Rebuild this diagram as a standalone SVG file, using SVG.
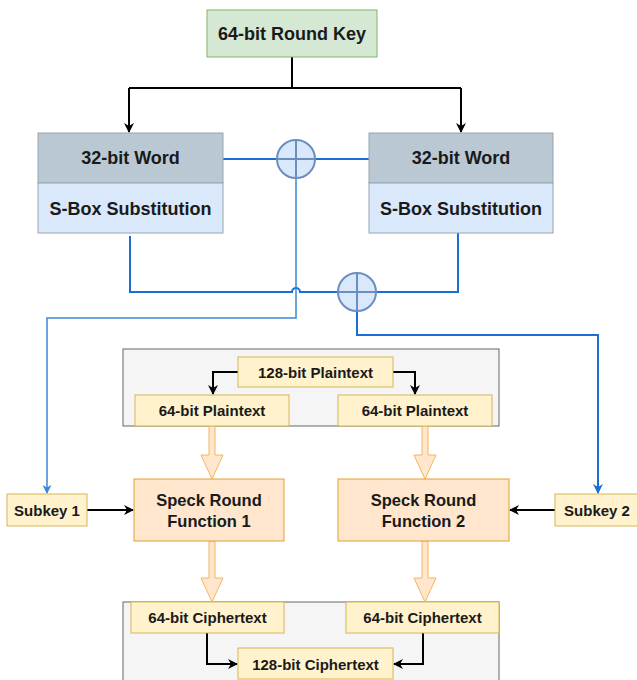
<svg xmlns="http://www.w3.org/2000/svg" width="637" height="680" viewBox="0 0 637 680">
  <defs>
    <marker id="arrBlack" viewBox="0 0 10 10" refX="9" refY="5" markerWidth="10" markerHeight="10" orient="auto" markerUnits="userSpaceOnUse">
      <path d="M0,0 L10,5 L0,10 L3,5 Z" fill="#000"/>
    </marker>
    <marker id="arrBlue" viewBox="0 0 10 10" refX="9" refY="5" markerWidth="10" markerHeight="10" orient="auto" markerUnits="userSpaceOnUse">
      <path d="M0,0 L10,5 L0,10 L3,5 Z" fill="#1a6fd6"/>
    </marker>
    <marker id="arrBlueThin" viewBox="0 0 10 10" refX="9" refY="5" markerWidth="9" markerHeight="9" orient="auto" markerUnits="userSpaceOnUse">
      <path d="M0,0 L10,5 L0,10 L3,5 Z" fill="#3a86d8"/>
    </marker>
  </defs>
  <style>
    text { font-family: "Liberation Sans", Arial, sans-serif; font-weight: bold; fill: #1a1a1a; text-anchor: middle; dominant-baseline: central; }
    .key { fill: #d5e8d4; stroke: #82b366; stroke-width: 1; }
    .word { fill: #bac8d3; stroke: #9aa4ad; stroke-width: 1; }
    .sbox { fill: #dae8fc; stroke: #9aa4ad; stroke-width: 1; }
    .yellow { fill: #fff2cc; stroke: #d6b656; stroke-width: 1; }
    .speck { fill: #ffe6cc; stroke: #e0a030; stroke-width: 1; }
    .group { fill: #f5f5f5; stroke: #666; stroke-width: 1; }
    .xor { fill: #dae8fc; stroke: #6c8ebf; stroke-width: 2; }
    .blk { fill: none; stroke: #000; stroke-width: 2; }
    .blue { fill: none; stroke: #1a6fd6; stroke-width: 2; }
    .bluethin { fill: none; stroke: #3a86d8; stroke-width: 1.5; }
    .fat { fill: #ffe6cc; stroke: #f0b860; stroke-width: 1; }
    .tl { font-size: 18px; }
    .tm { font-size: 16.5px; }
    .ts { font-size: 15px; }
  </style>

  <!-- container panels -->
  <rect class="group" x="123" y="349" width="376" height="77"/>
  <rect class="group" x="123" y="602" width="376" height="82"/>

  <!-- connectors -->
  <g id="connectors">
    <!-- round key split -->
    <path class="blk" d="M292,57 V88"/>
    <path class="blk" d="M129,88 H461"/>
    <path class="blk" d="M129,88 V132" marker-end="url(#arrBlack)"/>
    <path class="blk" d="M461,88 V132" marker-end="url(#arrBlack)"/>
    <!-- words into first XOR -->
    <path class="blue" d="M223,159 H277"/>
    <path class="blue" d="M315,159 H369"/>
    <!-- S-box outputs into second XOR, with a hop over the vertical -->
    <path class="blue" d="M130,236 V292 H292 A4,4 0 0 1 300,292 H338"/>
    <path class="blue" d="M376,292 H458 V233"/>
    <!-- first XOR to subkey 1 -->
    <path class="bluethin" d="M296,178 V318 H47 V493" marker-end="url(#arrBlueThin)"/>
    <!-- second XOR to subkey 2 -->
    <path class="blue" d="M357,311 V335 H598 V493" marker-end="url(#arrBlue)"/>
    <!-- plaintext split -->
    <path class="blk" d="M238,372 H213 V394" marker-end="url(#arrBlack)"/>
    <path class="blk" d="M393,372 H415 V394" marker-end="url(#arrBlack)"/>
    <!-- subkeys into round functions -->
    <path class="blk" d="M87,510 H133" marker-end="url(#arrBlack)"/>
    <path class="blk" d="M555,510 H510" marker-end="url(#arrBlack)"/>
    <!-- ciphertext join -->
    <path class="blk" d="M207,633 V664 H237" marker-end="url(#arrBlack)"/>
    <path class="blk" d="M423,633 V664 H394" marker-end="url(#arrBlack)"/>
    <!-- block arrows -->
    <path class="fat" d="M209,426 V455 H201 L212,479 L223,455 H215 V426 Z"/>
    <path class="fat" d="M422,426 V455 H414 L425,479 L436,455 H428 V426 Z"/>
    <path class="fat" d="M209,541 V578 H201 L212,602 L223,578 H215 V541 Z"/>
    <path class="fat" d="M422,541 V578 H414 L425,602 L436,578 H428 V541 Z"/>
  </g>

  <g id="round-key">
    <rect class="key" x="207" y="10" width="170" height="47"/>
    <text class="tl" x="292" y="33.5">64-bit Round Key</text>
  </g>

  <g id="word-left">
    <rect class="word" x="38" y="133" width="185" height="50"/>
    <text class="tl" x="130.5" y="158">32-bit Word</text>
    <rect class="sbox" x="38" y="183" width="185" height="50"/>
    <text class="tl" x="130.5" y="208.5">S-Box Substitution</text>
  </g>

  <g id="word-right">
    <rect class="word" x="369" y="133" width="184" height="50"/>
    <text class="tl" x="461" y="158">32-bit Word</text>
    <rect class="sbox" x="369" y="183" width="184" height="50"/>
    <text class="tl" x="461" y="208.5">S-Box Substitution</text>
  </g>

  <g id="xor-1">
    <circle class="xor" cx="296" cy="159" r="19"/>
    <path d="M277,159 H315 M296,140 V178" stroke="#6c8ebf" stroke-width="2"/>
  </g>

  <g id="xor-2">
    <circle class="xor" cx="357" cy="292" r="19"/>
    <path d="M338,292 H376 M357,273 V311" stroke="#6c8ebf" stroke-width="2"/>
  </g>

  <g id="plaintext-128">
    <rect class="yellow" x="238" y="357" width="155" height="30"/>
    <text class="ts" x="315.5" y="372">128-bit Plaintext</text>
  </g>
  <g id="plaintext-64-left">
    <rect class="yellow" x="135" y="395" width="154" height="31"/>
    <text class="ts" x="212" y="410.5">64-bit Plaintext</text>
  </g>
  <g id="plaintext-64-right">
    <rect class="yellow" x="338" y="395" width="154" height="31"/>
    <text class="ts" x="415" y="410.5">64-bit Plaintext</text>
  </g>

  <g id="subkey-1">
    <rect class="yellow" x="7" y="494" width="80" height="32"/>
    <text class="ts" x="47" y="510">Subkey 1</text>
  </g>
  <g id="subkey-2">
    <rect class="yellow" x="555" y="494" width="84" height="32"/>
    <text class="ts" x="597" y="510">Subkey 2</text>
  </g>

  <g id="speck-1">
    <rect class="speck" x="134" y="479" width="150" height="62"/>
    <text class="tm" x="209" y="499.5">Speck Round</text>
    <text class="tm" x="209" y="520.5">Function 1</text>
  </g>
  <g id="speck-2">
    <rect class="speck" x="338" y="479" width="171" height="62"/>
    <text class="tm" x="423.5" y="499.5">Speck Round</text>
    <text class="tm" x="423.5" y="520.5">Function 2</text>
  </g>

  <g id="ciphertext-64-left">
    <rect class="yellow" x="131" y="602" width="153" height="31"/>
    <text class="ts" x="207.5" y="617.5">64-bit Ciphertext</text>
  </g>
  <g id="ciphertext-64-right">
    <rect class="yellow" x="346" y="602" width="153" height="31"/>
    <text class="ts" x="422.5" y="617.5">64-bit Ciphertext</text>
  </g>
  <g id="ciphertext-128">
    <rect class="yellow" x="238" y="648" width="155" height="31"/>
    <text class="ts" x="315.5" y="664">128-bit Ciphertext</text>
  </g>
</svg>
